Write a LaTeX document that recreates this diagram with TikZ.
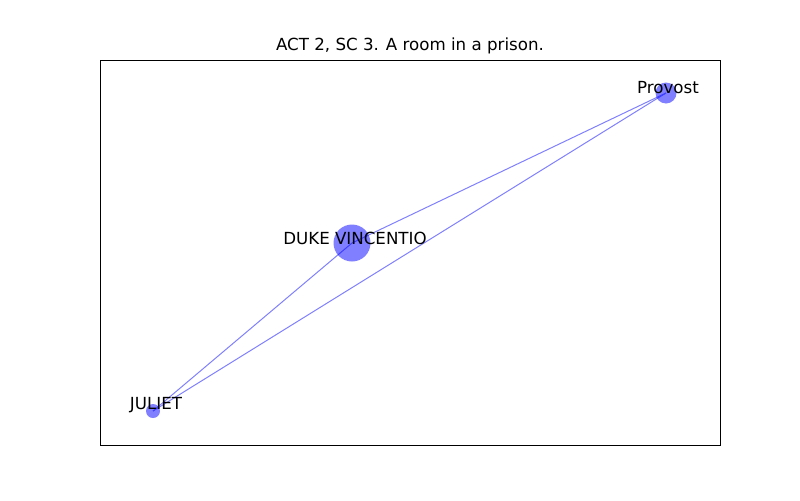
\documentclass[tikz,border=0pt]{standalone}
\usepackage{fontspec}
\setmainfont{DejaVu Sans}
\begin{document}
\begin{tikzpicture}[x=0.75pt,y=-0.75pt,
  person/.style={circle,fill=blue,fill opacity=0.5,draw=none,inner sep=0pt},
  lbl/.style={font=\fontsize{12.5}{15}\selectfont,inner sep=0pt,text=black},
  link/.style={draw=blue!50!white,line width=0.75pt}]
\useasboundingbox (0,0) rectangle (800,500);
\node[draw=black,line width=0.8pt,minimum width=620*0.75pt,minimum height=385*0.75pt,inner sep=0pt,anchor=north west] (frame) at (100,60) {};
\node[lbl] (title) at (410,46) {ACT 2, SC 3. A room in a prison.};
\coordinate (pc) at (666,93);
\coordinate (dc) at (352,243);
\coordinate (jc) at (153,411);
\draw[link] (dc) -- (pc);
\draw[link] (jc) -- (dc);
\draw[link] (jc) -- (pc);
\node[person,minimum size=21*0.75pt] (p) at (pc) {};
\node[person,minimum size=37*0.75pt] (d) at (dc) {};
\node[person,minimum size=14*0.75pt] (j) at (jc) {};
\node[lbl] (pl) at (668,87.5) {Provost};
\node[lbl] (dl) at (355,238.5) {DUKE VINCENTIO};
\node[lbl] (jl) at (156,405.5) {JULIET};
\end{tikzpicture}
\end{document}
